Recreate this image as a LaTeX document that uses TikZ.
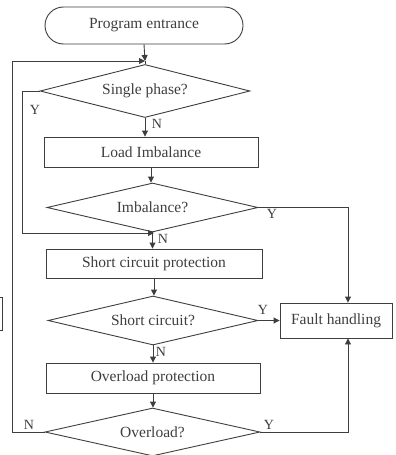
\documentclass[tikz,border=0pt]{standalone}
\usepackage{fontspec}
\setmainfont{Liberation Serif}
\usetikzlibrary{shapes.geometric,shapes.misc,arrows.meta}
\definecolor{ink}{RGB}{62,62,62}
\begin{document}
\begin{tikzpicture}[x=1pt,y=-1pt,
  every node/.style={font=\fontsize{15.5}{18}\selectfont, text=ink},
  line/.style={draw=ink, line width=0.9pt},
  arr/.style={line, -{Triangle[length=6pt,width=6pt]}},
  procbox/.style={line, rectangle, inner sep=0pt, minimum width=#1, minimum height=30pt},
  decision/.style={line, diamond, aspect=4, inner sep=0pt, minimum width=#1, minimum height=49pt},
  terminal/.style={line, rounded rectangle, inner sep=0pt, minimum width=198pt, minimum height=37pt},
  yn/.style={font=\fontsize{14}{16}\selectfont, inner sep=0pt}]
\useasboundingbox (0,0) rectangle (396,455);

% main column
\node[terminal] (start) at (144,25.5) {Program entrance};
\node[decision=210pt, minimum height=53pt] (single) at (145,91) {Single phase?};
\node[procbox=214pt] (load) at (151,152) {Load Imbalance};
\node[decision=211pt] (imb) at (152.5,207.5) {Imbalance?};
\node[procbox=216pt, minimum height=29pt] (scp) at (154,263.5) {Short circuit protection};
\node[decision=210pt] (sc) at (153,320.5) {Short circuit?};
\node[procbox=214pt] (olp) at (153,378) {Overload protection};
\node[decision=215pt, minimum height=48pt] (ol) at (152.5,432) {Overload?};
\node[procbox=112pt, minimum height=35pt] (fault) at (336,320.5) {Fault handling};

% partial frame at the left margin
\draw[line] (-20,297) rectangle (2,330);

% junctions and return lanes
\coordinate (j1) at (145,61);
\coordinate (j2) at (154,233);
\coordinate (outer) at (12,0);
\coordinate (inner) at (22,0);
\coordinate (right) at (348,0);

% vertical flow
\draw[arr] (start.south) -- (j1);
\draw[line] (j1) -- (single.north);
\draw[arr] (single.south) -- (single.south |- load.north);
\draw[arr] (load.south) -- (load.south |- imb.north);
\draw[arr] (imb.south) -- (imb.south |- scp.north);
\draw[arr] (scp.south) -- (scp.south |- sc.north);
\draw[arr] (sc.south) -- (sc.south |- olp.north);
\draw[arr] (olp.south) -- (olp.south |- ol.north);

% branches
\draw[arr] (single.west) -- (single.west -| inner) -- (j2 -| inner) -- (j2);
\draw[arr] (ol.west) -- (ol.west -| outer) -- (j1 -| outer) -- (j1);
\draw[arr] (imb.east) -- (imb.east -| right) -- (fault.north -| right);
\draw[arr] (sc.east) -- (fault.west);
\draw[arr] (ol.east) -- (ol.east -| right) -- (fault.south -| right);

% branch labels
\node[yn] at (35,110) {Y};
\node[yn] at (157,124) {N};
\node[yn] at (272,214) {Y};
\node[yn] at (163,239) {N};
\node[yn] at (263,310) {Y};
\node[yn] at (161,352) {N};
\node[yn] at (29,425) {N};
\node[yn] at (269,425) {Y};
\end{tikzpicture}
\end{document}
